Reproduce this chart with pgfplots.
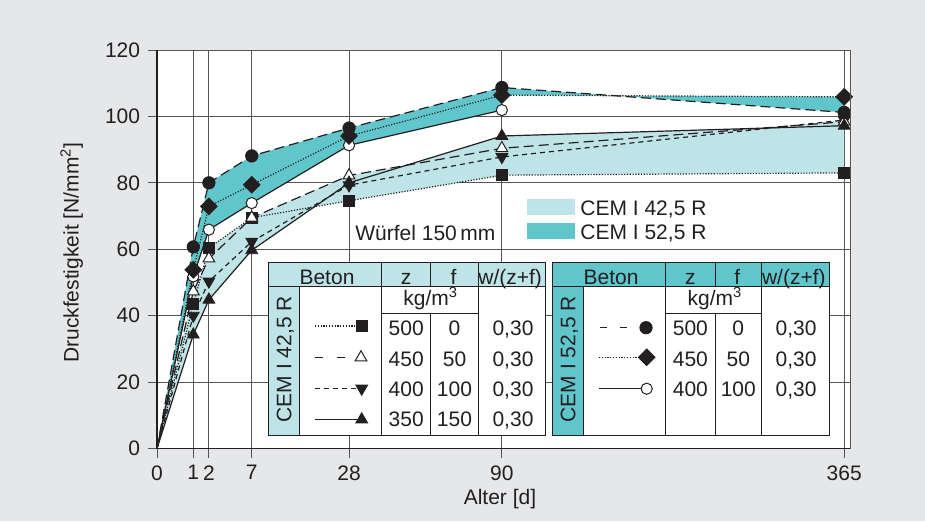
\documentclass[border=0pt]{standalone}
\usepackage{pgfplots}
\pgfplotsset{compat=1.18}
\usepackage{pgfplotstable}
\usepackage{fontspec}
\setmainfont{Liberation Sans}
\definecolor{bg}{RGB}{230,231,233}
\definecolor{lteal}{RGB}{190,228,231}
\definecolor{dteal}{RGB}{96,198,204}
\definecolor{gridc}{RGB}{85,85,85}
\definecolor{ink}{RGB}{35,31,32}

% CEM I 42,5 R
\pgfplotstableread{
d x y
0 0 0
1 1 43.5
2 1.43 60.4
7 2.61 69.5
28 5.29 74.6
90 9.50 82.3
365 18.93 83.0
}\Asq
\pgfplotstableread{
d x y
0 0 0
1 1 47.3
2 1.43 57.2
7 2.61 69.5
28 5.29 82.2
90 9.50 90.4
365 18.93 98.4
}\Atu
\pgfplotstableread{
d x y
0 0 0
1 1 40.0
2 1.43 50.3
7 2.61 62.3
28 5.29 79.3
90 9.50 87.8
365 18.93 98.9
}\Atd
\pgfplotstableread{
d x y
0 0 0
1 1 34.3
2 1.43 44.8
7 2.61 59.7
28 5.29 80.0
90 9.50 94.1
365 18.93 97.2
}\Atf
% CEM I 52,5 R
\pgfplotstableread{
d x y
0 0 0
1 1 60.7
2 1.43 80.0
7 2.61 88.1
28 5.29 96.5
90 9.50 108.7
365 18.93 101.2
}\Bci
\pgfplotstableread{
d x y
0 0 0
1 1 53.8
2 1.43 72.9
7 2.61 79.4
28 5.29 94.1
90 9.50 106.4
365 18.93 105.9
}\Bdi
\pgfplotstableread{
d x y
0 0 0
1 1 51.8
2 1.43 65.9
7 2.61 73.9
28 5.29 91.3
90 9.50 101.9
}\Boc

\tikzset{
 ldot/.style={ink, line width=0.6pt, dash pattern=on 0.6pt off 0.8pt},
 ldash/.style={ink, line width=0.6pt, dash pattern=on 5pt off 2.5pt},
 lsdash/.style={ink, line width=0.6pt, dash pattern=on 2.5pt off 2pt},
 lsolid/.style={ink, line width=0.6pt, solid},
 msq/.style={only marks, mark=square*, mark size=2.75pt, mark options={solid, draw=ink, fill=ink}},
 mtu/.style={only marks, mark=triangle*, mark size=3.4pt, mark options={solid, draw=ink, fill=white, line width=0.5pt}},
 mtd/.style={only marks, mark=triangle*, mark size=3.4pt, mark options={solid, rotate=180, draw=ink, fill=ink}},
 mtf/.style={only marks, mark=triangle*, mark size=3.4pt, mark options={solid, draw=ink, fill=ink}},
 mci/.style={only marks, mark=*, mark size=3.1pt, mark options={solid, draw=ink, fill=ink}},
 mdi/.style={only marks, mark=square*, mark size=2.95pt, mark options={solid, rotate=45, draw=ink, fill=ink}},
 moc/.style={only marks, mark=*, mark size=2.8pt, mark options={solid, draw=ink, fill=white, line width=0.5pt}},
}

\begin{document}
\fontsize{10.5}{12.6}\selectfont
\begin{tikzpicture}[font=\fontsize{10.5}{12.6}\selectfont]
\fill[bg] (0,0) rectangle (462.5pt,260.5pt);
\begin{axis}[
 at={(78.5pt,36.25pt)}, anchor=south west,
 scale only axis, width=346.85pt, height=199.25pt,
 xmin=0, xmax=19.11, ymin=0, ymax=120,
 axis background/.style={fill=white},
 axis x line*=bottom, axis y line*=left,
 axis line style={draw=ink, line width=0.6pt},
 tick align=outside,
 major tick length=4.75pt,
 tick style={draw=gridc, line width=0.5pt},
 grid=major, major grid style={draw=gridc, line width=0.5pt},
 xtick={0,1,1.43,2.61,5.29,9.50,18.93},
 xticklabels={0,1,2,7,28,90,365},
 ytick={0,20,...,120},
 /pgf/number format/assume math mode=true,
 tick label style={font=\fontsize{10.5}{12.6}\selectfont, text=ink},
 xlabel={Alter [d]},
 ylabel={Druckfestigkeit [N/mm\textsuperscript{2}]},
 xlabel style={at={(axis description cs:0.4944,-0.128)}, anchor=center, text=ink},
 ylabel style={at={(axis description cs:-0.123,0.4918)}, anchor=center, text=ink},
 clip=false,
]
% bands
\addplot[fill=lteal, draw=none] coordinates {
 (0,0) (1,47.3) (1.233,52.68) (1.43,60.4) (2.61,69.5) (5.29,82.2) (6.860,85.26)
 (9.50,94.1) (16.62,96.44) (17.355,97.07) (18.93,98.9) (18.93,83.0) (9.50,82.3)
 (5.29,74.6) (4.339,72.79) (2.61,59.7) (1.43,44.8) (1,34.3) (0,0)};
\addplot[fill=dteal, draw=none] coordinates {
 (0,0) (1,60.7) (1.43,80) (2.61,88.1) (5.29,96.5) (9.5,108.7) (12.60,106.24)
 (18.93,105.9) (18.93,101.2) (12.60,106.24) (9.5,106.4) (9.5,101.9) (5.29,91.3)
 (2.61,73.9) (1.43,65.9) (1,51.8) (0,0)};
% lines
\addplot[ldot] table[x=x,y=y]{\Asq};
\addplot[ldash] table[x=x,y=y]{\Atu};
\addplot[lsdash] table[x=x,y=y]{\Atd};
\addplot[lsolid] table[x=x,y=y]{\Atf};
\addplot[ldash] table[x=x,y=y]{\Bci};
\addplot[ldot] table[x=x,y=y]{\Bdi};
\addplot[lsolid] table[x=x,y=y]{\Boc};
% markers (no marker at the origin)
\addplot[msq, skip coords between index={0}{1}] table[x=x,y=y]{\Asq};
\addplot[mtd, skip coords between index={0}{1}] table[x=x,y=y]{\Atd};
\addplot[mtu, skip coords between index={0}{1}] table[x=x,y=y]{\Atu};
\addplot[mtf, skip coords between index={0}{1}] table[x=x,y=y]{\Atf};
\addplot[moc, skip coords between index={0}{1}] table[x=x,y=y]{\Boc};
\addplot[mdi, skip coords between index={0}{1}] table[x=x,y=y]{\Bdi};
\addplot[mci, skip coords between index={0}{1}] table[x=x,y=y]{\Bci};
\end{axis}

\begin{scope}[x=0.5pt,y=-0.5pt,shift={(0pt,260.5pt)}]
\draw[gridc, line width=0.5pt] (850.7,50) -- (850.7,448.5);
% legend
\fill[lteal] (526.7,199.3) rectangle (575,215);
\fill[dteal] (526.7,222.7) rectangle (575,239);
\node[anchor=base west, inner sep=0pt, text=ink] at (580,215) {CEM I 42,5 R};
\node[anchor=base west, inner sep=0pt, text=ink] at (580,239) {CEM I 52,5 R};
\node[anchor=base west, inner sep=0pt, text=ink] at (355,240) {Würfel 150\,mm};
% tables
\foreach \xa/\xb/\xc/\xd/\xe/\xf/\col/\lab in
  {268.3/299.3/381.7/430.7/478.3/545/lteal/{CEM I 42,5 R},
   552.3/583.3/665.7/715/761.7/829/dteal/{CEM I 52,5 R}}{
 \fill[white] (\xa,262.3) rectangle (\xf,435);
 \fill[\col] (\xa,262.3) rectangle (\xf,286);
 \fill[\col] (\xa,286) rectangle (\xb,435);
 \draw[ink, line width=0.5pt] (\xa,262.3) rectangle (\xf,435);
 \draw[ink, line width=0.5pt] (\xa,286) -- (\xf,286)
   (\xb,286) -- (\xb,435) (\xc,262.3) -- (\xc,435)
   (\xd,262.3) -- (\xd,286) (\xd,313.3) -- (\xd,435)
   (\xe,262.3) -- (\xe,435) (\xc,313.3) -- (\xe,313.3);
 \node[anchor=center, rotate=90, inner sep=0pt, text=ink] at ({(\xa+\xb)/2+1.5},359.2) {\lab};
 \node[anchor=base, inner sep=0pt, text=ink] at ({(\xa+\xc)/2+2},284.3) {Beton};
 \node[anchor=base, inner sep=0pt, text=ink] at ({(\xc+\xd)/2},284.3) {z};
 \node[anchor=base, inner sep=0pt, text=ink] at ({(\xd+\xe)/2-1},284.3) {f};
 \node[anchor=base, inner sep=0pt, text=ink] at ({(\xe+\xf)/2-1.5},284.3) {w/(z+f)};
 \node[anchor=base, inner sep=0pt, text=ink] at (\xd,305.5) {kg/m\textsuperscript{3}};
}
% left table values
\foreach \z/\f/\yy in {500/0/335.7, 450/50/366.7, 400/100/396.7, 350/150/426.7}{
 \node[anchor=base, inner sep=0pt, text=ink] at (406.2,\yy) {\z};
 \node[anchor=base, inner sep=0pt, text=ink] at (454.5,\yy) {\f};
 \node[anchor=base, inner sep=0pt, text=ink] at (513,\yy) {0,30};
}
\foreach \z/\f/\yy in {500/0/335.7, 450/50/366.7, 400/100/396.7}{
 \node[anchor=base, inner sep=0pt, text=ink] at (690.4,\yy) {\z};
 \node[anchor=base, inner sep=0pt, text=ink] at (738.3,\yy) {\f};
 \node[anchor=base, inner sep=0pt, text=ink] at (796,\yy) {0,30};
}
\end{scope}

% legend samples in the tables (pixel-coordinate axis)
\begin{axis}[at={(0pt,0pt)}, anchor=south west, scale only axis,
 width=462.5pt, height=260.5pt, xmin=0, xmax=925, ymin=0, ymax=521,
 y dir=reverse, hide axis, clip=false]
\addplot[ldot] coordinates {(315,326) (357,326)};
\addplot[msq] coordinates {(362,326)};
\addplot[ink, line width=0.6pt, dash pattern=on 4.15pt off 6.7pt] coordinates {(315,357.5) (355,357.5)};
\addplot[mtu] coordinates {(361,357.5)};
\addplot[lsdash] coordinates {(315,388.5) (356,388.5)};
\addplot[mtd] coordinates {(361.7,388.5)};
\addplot[lsolid] coordinates {(315,419.5) (357,419.5)};
\addplot[mtf] coordinates {(361.7,419.5)};
\addplot[ink, line width=0.6pt, dash pattern=on 3.35pt off 6.65pt] coordinates {(600,327.7) (640,327.7)};
\addplot[mci] coordinates {(646,327.7)};
\addplot[ldot] coordinates {(599,357.3) (640,357.3)};
\addplot[mdi] coordinates {(646.7,357.3)};
\addplot[lsolid] coordinates {(599,388.7) (641,388.7)};
\addplot[moc] coordinates {(646.7,388.7)};
\end{axis}
\end{tikzpicture}
\end{document}
